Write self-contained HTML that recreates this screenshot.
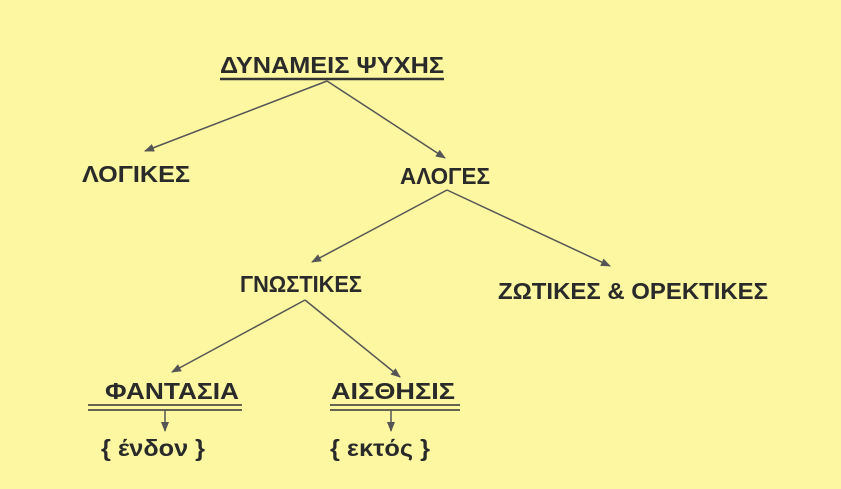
<!DOCTYPE html>
<html><head><meta charset="utf-8"><style>
html,body{margin:0;padding:0;background:#fcf7a0;}
svg{display:block}
text{font-family:"Liberation Sans","DejaVu Sans",sans-serif;font-weight:bold;fill:#2a2a2a;}
</style></head><body>
<svg width="841" height="489" viewBox="0 0 841 489">
<defs><marker id="a" markerWidth="10" markerHeight="8" refX="9" refY="4" orient="auto" markerUnits="userSpaceOnUse"><path d="M0,0 L10,4 L0,8 Z" fill="#555"/></marker></defs>
<rect width="841" height="489" fill="#fcf7a0"/>
<g font-size="23">
<text x="220" y="73" textLength="224" lengthAdjust="spacingAndGlyphs">ΔΥΝΑΜΕΙΣ  ΨΥΧΗΣ</text>
<text x="82" y="182" textLength="108" lengthAdjust="spacingAndGlyphs">ΛΟΓΙΚΕΣ</text>
<text x="400" y="184" textLength="90" lengthAdjust="spacingAndGlyphs">ΑΛΟΓΕΣ</text>
<text x="240" y="292" textLength="122" lengthAdjust="spacingAndGlyphs">ΓΝΩΣΤΙΚΕΣ</text>
<text x="498" y="299" textLength="270" lengthAdjust="spacingAndGlyphs">ΖΩΤΙΚΕΣ  &amp; ΟΡΕΚΤΙΚΕΣ</text>
<text x="105" y="399" textLength="134" lengthAdjust="spacingAndGlyphs">ΦΑΝΤΑΣΙΑ</text>
<text x="331" y="399" textLength="124" lengthAdjust="spacingAndGlyphs">ΑΙΣΘΗΣΙΣ</text>
<text x="101" y="456" textLength="104" lengthAdjust="spacingAndGlyphs">{ ένδον }</text>
<text x="330" y="456" textLength="100" lengthAdjust="spacingAndGlyphs">{ εκτός  }</text>
</g>
<g stroke="#333" fill="none">
<line x1="220" y1="79" x2="444" y2="79" stroke-width="2.5"/>
<line x1="88" y1="405" x2="242" y2="405" stroke-width="1.5"/>
<line x1="88" y1="410" x2="242" y2="410" stroke-width="1.5"/>
<line x1="330" y1="405" x2="460" y2="405" stroke-width="1.5"/>
<line x1="330" y1="410" x2="460" y2="410" stroke-width="1.5"/>
</g>
<g stroke="#555" stroke-width="1.5" marker-end="url(#a)">
<line x1="327" y1="81" x2="145" y2="151"/>
<line x1="327" y1="81" x2="445" y2="158"/>
<line x1="447" y1="190" x2="312" y2="262"/>
<line x1="447" y1="190" x2="610" y2="266"/>
<line x1="305" y1="300" x2="172" y2="372"/>
<line x1="305" y1="300" x2="400" y2="377"/>
<line x1="165" y1="410" x2="165" y2="431"/>
<line x1="391" y1="410" x2="391" y2="431"/>
</g>
</svg>
</body></html>
